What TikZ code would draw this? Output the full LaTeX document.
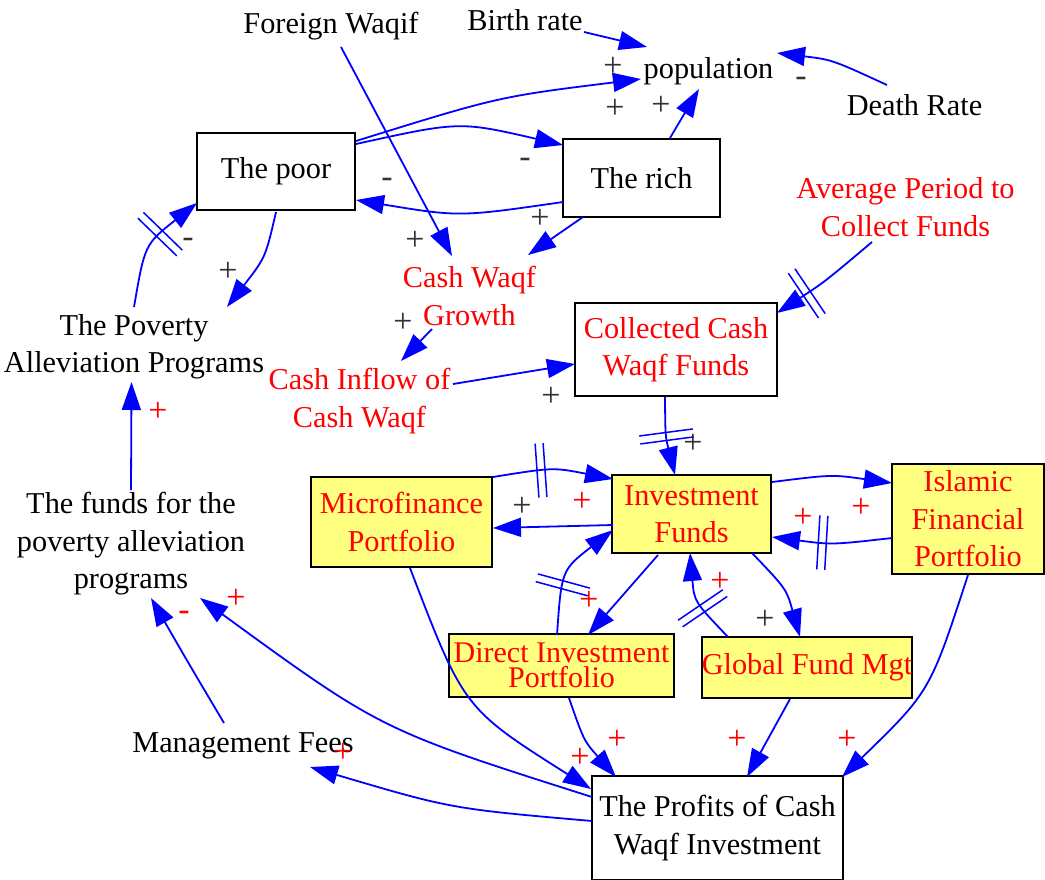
\documentclass[tikz,border=0pt]{standalone}
\usepackage{fontspec}
\setmainfont{Liberation Serif}
\usetikzlibrary{arrows.meta,decorations.markings}
\definecolor{boxyellow}{HTML}{FFFF80}
\definecolor{signgray}{HTML}{333333}
\tikzset{
  lbl/.style={font=\fontsize{30.3pt}{37.5pt}\selectfont, align=center, inner sep=1pt},
  box/.style={lbl, draw, line width=1.6pt, inner sep=0pt, rectangle},
  ybox/.style={box, fill=boxyellow, text=red},
  conn/.style={draw=blue, line width=1.8pt, -{Triangle[length=28pt,width=19pt]}},
  dmark/.style={postaction={decorate,decoration={markings,mark=at position #1 with {\draw[blue,line width=1.5pt,-] (-4pt,-27pt)--(-4pt,27pt) (4pt,-27pt)--(4pt,27pt);}}}},
  sgn/.style={font=\fontsize{34pt}{36pt}\selectfont, text=signgray, inner sep=0pt},
  rsgn/.style={sgn, text=red}
}
\begin{document}
\begin{tikzpicture}[x=1pt,y=-1pt]
\useasboundingbox (0,0) rectangle (1045,879);
% boxes
\node[box, minimum width=158pt, minimum height=77pt] (poor) at (276,171.5) {The poor};
\node[box, minimum width=157pt, minimum height=78pt] (rich) at (641.5,178) {The rich};
\node[box, text=red, minimum width=202pt, minimum height=93pt] (coll) at (676,349.5) {Collected Cash\\Waqf Funds};
\node[ybox, minimum width=159pt, minimum height=78pt] (inv) at (691.5,514) {Investment\\Funds};
\node[ybox, minimum width=181pt, minimum height=90pt] (micro) at (401.5,522) {Microfinance\\Portfolio};
\node[ybox, minimum width=152pt, minimum height=110pt] (isl) at (968,519) {Islamic\\Financial\\Portfolio};
\node[ybox, minimum width=225pt, minimum height=63pt, font=\fontsize{30pt}{25pt}\selectfont] (direct) at (561.5,665.5) {Direct Investment\\Portfolio};
\node[ybox, minimum width=206pt, minimum height=61pt] (global) at (807,667.5) {Global Fund Mgt};
\node[box, minimum width=251pt, minimum height=104pt] (prof) at (717.5,828) {The Profits of Cash\\Waqf Investment};
% plain variables
\node[lbl] (foreign) at (331,26) {Foreign Waqif};
\node[lbl] (birth) at (525,20) {Birth rate};
\node[lbl] (pop) at (708.5,71) {population};
\node[lbl] (death) at (914.5,105) {Death Rate};
\node[lbl,text=red] (avg) at (905.5,207) {Average Period to\\Collect Funds};
\node[lbl,text=red] (cwg) at (469.5,296) {Cash Waqf\\Growth};
\node[lbl] (pap) at (134,347) {The Poverty\\Alleviation Programs};
\node[lbl,text=red] (cif) at (359.5,401) {Cash Inflow of\\Cash Waqf};
\node[lbl] (ffp) at (131,544) {The funds for the\\poverty alleviation\\programs};
\node[lbl] (mgmt) at (243,746) {Management Fees};
% connectors
\draw[conn] ([shift={(59,12)}]birth.center) -- ([shift={(-61.5,-24)}]pop.center);
\draw[conn] ([shift={(80,-30.5)}]poor.center) .. controls (498.5,96.7) .. ([shift={(-67.5,8)}]pop.center);
\draw[conn] ([shift={(80,-27.5)}]poor.center) .. controls (459.5,121.2) .. ([shift={(-78.5,-33)}]rich.center);
\draw[conn] ([shift={(-78.5,24)}]rich.center) .. controls (459.5,217) .. ([shift={(80,28.5)}]poor.center);
\draw[conn] ([shift={(28.5,-40)}]rich.center) -- ([shift={(-9.5,18)}]pop.center);
\draw[conn] ([shift={(-27.5,-20)}]death.center) .. controls (832,59.7) .. ([shift={(68.5,-18)}]pop.center);
\draw[conn] ([shift={(10,21)}]foreign.center) -- ([shift={(-17.5,-40)}]cwg.center);
\draw[conn] ([shift={(-58.5,39)}]rich.center) -- ([shift={(58.5,-41)}]cwg.center);
\draw[conn] ([shift={(-37.5,33)}]cwg.center) -- ([shift={(41.5,-40)}]cif.center);
\draw[conn] ([shift={(93.5,-17)}]cif.center) -- ([shift={(-101,14.5)}]coll.center);
\draw[conn,dmark=0.7] ([shift={(-33.5,35)}]avg.center) .. controls (824.5,282) .. ([shift={(101,-36.5)}]coll.center);
\draw[conn,dmark=0.5] ([shift={(-11,47.5)}]coll.center) .. controls (665.3,436) .. ([shift={(-16.5,-39)}]inv.center);
\draw[conn] ([shift={(0,40.5)}]poor.center) .. controls (265.5,257.5) .. ([shift={(93,-40)}]pap.center);
\draw[conn,dmark=0.62] ([shift={(0,-40)}]pap.center) .. controls (144.8,244.3) .. ([shift={(-79,31.5)}]poor.center);
\draw[conn] ([shift={(0,-54)}]ffp.center) -- ([shift={(-2.5,35)}]pap.center);
\draw[conn] ([shift={(-19,-23)}]mgmt.center) .. controls (188.1,662.5) .. ([shift={(20,54)}]ffp.center);
\draw[conn] ([shift={(-125.5,-31)}]prof.center) .. controls (381.3,730) .. ([shift={(69,54)}]ffp.center);
\draw[conn] ([shift={(-125.5,-7)}]prof.center) .. controls (451,808.7) .. ([shift={(67,21)}]mgmt.center);
\draw[conn] ([shift={(8.5,46)}]micro.center) .. controls (463.8,708.5) .. ([shift={(-126.5,-39)}]prof.center);
\draw[conn] ([shift={(7.5,32.5)}]direct.center) .. controls (583.9,740.8) .. ([shift={(-101.5,-51)}]prof.center);
\draw[conn] ([shift={(-17,31.5)}]global.center) -- ([shift={(29.5,-51)}]prof.center);
\draw[conn] ([shift={(0,56)}]isl.center) .. controls (930,691.5) .. ([shift={(124.5,-51)}]prof.center);
\draw[conn,dmark=0.4] ([shift={(91.5,-45)}]micro.center) .. controls (553,467.3) .. ([shift={(-78.5,-35)}]inv.center);
\draw[conn] ([shift={(-78.5,11)}]inv.center) -- ([shift={(91.5,6)}]micro.center);
\draw[conn] ([shift={(-33.5,41)}]inv.center) -- ([shift={(26.5,-30.5)}]direct.center);
\draw[conn,dmark=0.4] ([shift={(-4.5,-30.5)}]direct.center) .. controls (561.5,570) .. ([shift={(-78.5,16)}]inv.center);
\draw[conn,dmark=0.4] ([shift={(-79,-30.5)}]global.center) .. controls (694.3,601.7) .. ([shift={(-1.5,39)}]inv.center);
\draw[conn] ([shift={(60.5,39)}]inv.center) .. controls (786.4,589) .. ([shift={(-7,-30.5)}]global.center);
\draw[conn] ([shift={(80.5,-32)}]inv.center) .. controls (832,474.5) .. ([shift={(-76,-36)}]isl.center);
\draw[conn,dmark=0.58] ([shift={(-76,19)}]isl.center) .. controls (832,544.8) .. ([shift={(80.5,23)}]inv.center);
% polarity signs (black)
\node[sgn] (s1) at (613,67) {+};
\node[sgn] (s2) at (615,109) {+};
\node[sgn] (s3) at (661,106) {+};
\node[sgn] (s4) at (525,163) {-};
\node[sgn] (s5) at (387,183) {-};
\node[sgn] (s6) at (540,219) {+};
\node[sgn] (s7) at (801,82) {-};
\node[sgn] (s8) at (415,241) {+};
\node[sgn] (s9) at (228,272) {+};
\node[sgn] (s10) at (188,243) {-};
\node[sgn] (s11) at (403,323) {+};
\node[sgn] (s12) at (551,397) {+};
\node[sgn] (s13) at (693,444) {+};
\node[sgn] (s14) at (522,507) {+};
\node[sgn] (s15) at (765,620) {+};
% polarity signs (red)
\node[rsgn] (r1) at (158,412) {+};
\node[rsgn] (r2) at (184,616) {-};
\node[rsgn] (r3) at (236,599) {+};
\node[rsgn] (r4) at (343,753) {+};
\node[rsgn] (r5) at (582,502) {+};
\node[rsgn] (r6) at (589,601) {+};
\node[rsgn] (r7) at (580,758) {+};
\node[rsgn] (r8) at (617,740) {+};
\node[rsgn] (r9) at (737,740) {+};
\node[rsgn] (r10) at (847,740) {+};
\node[rsgn] (r11) at (720,582) {+};
\node[rsgn] (r12) at (803,518) {+};
\node[rsgn] (r13) at (861,508) {+};
\end{tikzpicture}
\end{document}
